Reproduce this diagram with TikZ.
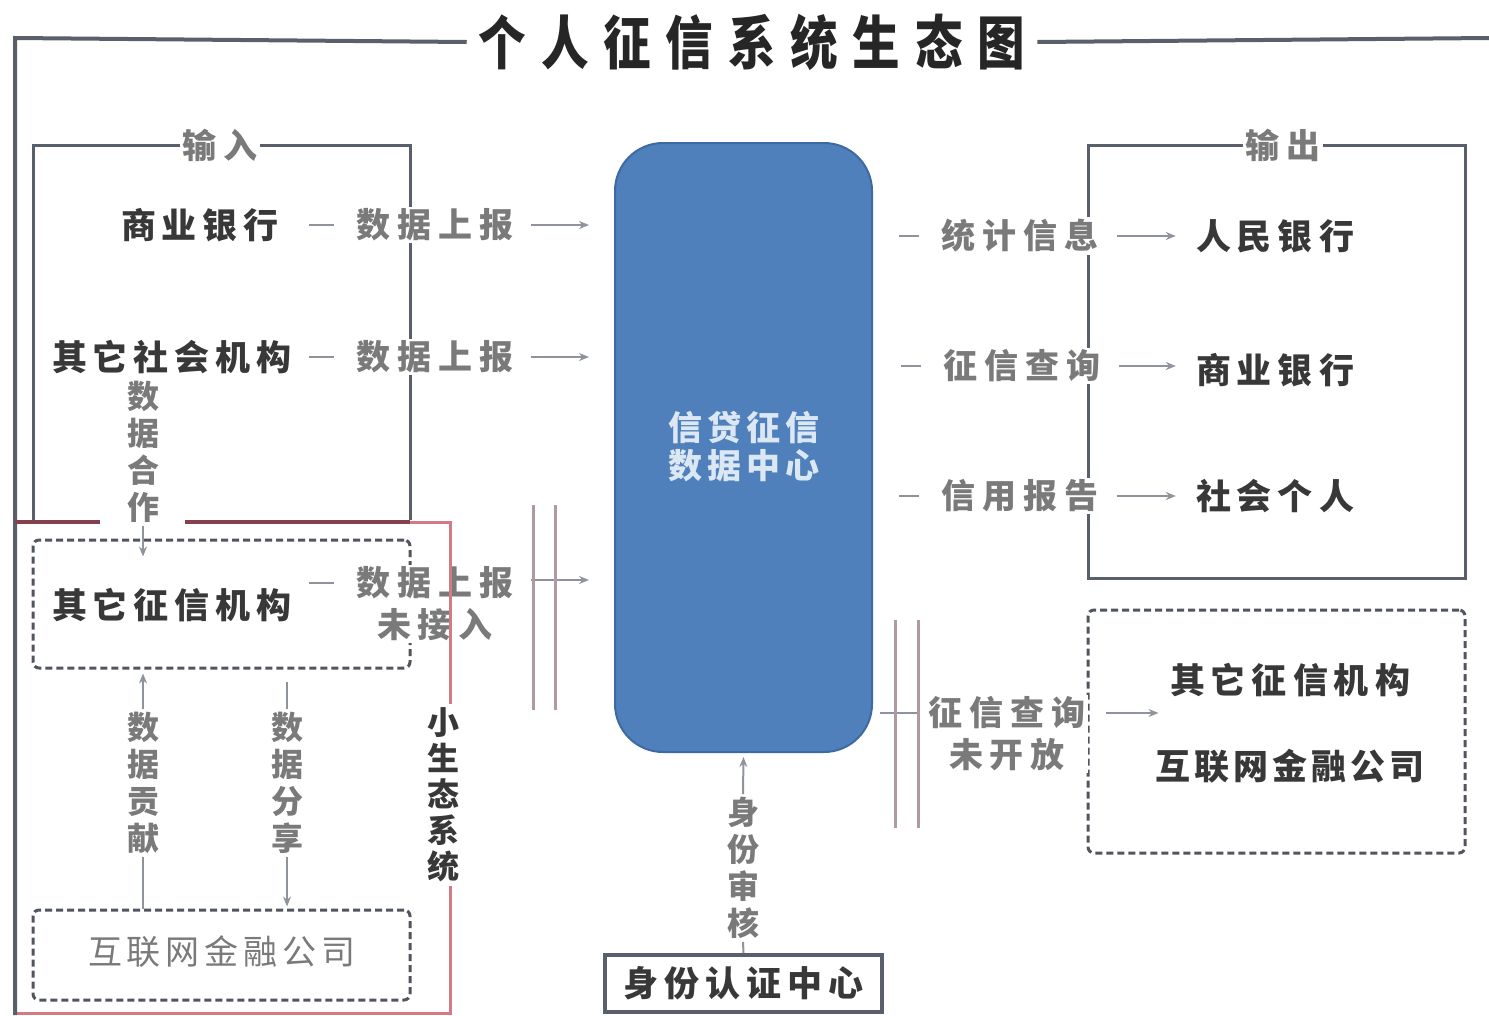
\documentclass[tikz,border=0pt]{standalone}
\usepackage{fontspec}
\setmainfont{Noto Sans CJK SC}
\usetikzlibrary{arrows.meta,calc}
\definecolor{framec}{HTML}{5A606B}
\definecolor{labc}{HTML}{7A7A7A}
\definecolor{entc}{HTML}{383838}
\definecolor{arrc}{HTML}{8F949C}
\definecolor{dboxc}{HTML}{50555E}
\definecolor{dblc}{HTML}{B09AA2}
\definecolor{redc}{HTML}{D27A86}
\definecolor{maroonc}{HTML}{85404F}
\definecolor{bluef}{HTML}{4F80BC}
\definecolor{blued}{HTML}{3D6AA0}
\definecolor{ctext}{HTML}{DCE7F4}
\makeatletter
\newdimen\lspk \lspk=6pt
\def\lsp@end{\lsp@end}
\def\lsp#1{\lsp@a#1\lsp@end}
\def\lsp@a#1{\ifx#1\lsp@end\else#1\expandafter\lsp@b\fi}
\def\lsp@b#1{\ifx#1\lsp@end\else\kern\lspk#1\expandafter\lsp@b\fi}
\makeatother
\newcommand\entfont{\fontsize{35}{40}\selectfont\bfseries\lspk=6pt}
\newcommand\labfont{\fontsize{34}{42}\selectfont\bfseries\lspk=7pt}
\newcommand\vfont{\fontsize{32}{37}\selectfont\bfseries}
\tikzset{
  frame/.style={draw=framec, line width=4pt},
  frametwo/.style={draw=framec, line width=3pt},
  conn/.style={draw=arrc, line width=2pt},
  tip/.style={-{Stealth[length=10pt,width=8pt]}},
  lab/.style={fill=white, text=labc, inner sep=2pt, font=\labfont, align=center},
  ent/.style={text=entc, inner sep=2pt, font=\entfont, align=center},
  vlab/.style={fill=white, text=labc, inner sep=3pt, font=\vfont, align=center},
  dbox/.style={draw=dboxc, line width=3pt, dash pattern=on 7pt off 4pt, rounded corners=6pt},
  dbl/.style={draw=dblc, line width=3pt},
}
\begin{document}
\begin{tikzpicture}[x=1pt,y=-1pt]
\useasboundingbox[fill=white] (0,0) rectangle (1489,1015);
% title and outer frame
\node[font=\fontsize{58}{64}\selectfont\bfseries, text=black!85, inner sep=12pt] (title) at (752,42) {\scalebox{0.82}[1]{\lspk=18pt\lsp{个人征信系统生态图}}};
\coordinate (ftl) at (15,38);
\coordinate (fbl) at (15,1015);
\coordinate (ftr) at (1489,38);
% red small-ecosystem box
\draw[draw=redc, line width=3pt] (410,522) -- (450,522) -- (450,1013) -- (15,1013) -- (15,522);
\draw[frame] (title.west) -- (ftl) -- (fbl);
\draw[frame] (title.east) -- (ftr);
% input box
\node[lab] (inlab) at (220,145) {\lsp{输入}};
\draw[frametwo] (inlab.west) -- (33,145) -- (33,520);
\draw[frametwo] (inlab.east) -- (410,145) -- (410,520);
\draw[draw=maroonc, line width=4pt] (15,522) -- (100,522);
\draw[draw=maroonc, line width=4pt] (185,522) -- (410,522);
% dashed boxes left
\node[dbox, minimum width=377pt, minimum height=128pt] (qzbox) at (221.5,604) {};
\node[dbox, minimum width=377pt, minimum height=90pt] (hlbox) at (221.5,955) {};
% central box
\node[draw=blued, fill=bluef, line width=2pt, rounded corners=48pt, minimum width=257pt, minimum height=609pt] (center) at (743.5,447.5) {};
\node[text=ctext, font=\fontsize{34}{38}\selectfont\bfseries, align=center] (ctxt) at (743.5,447) {\lspk=5pt\lsp{信贷征信}\\\lspk=5pt\lsp{数据中心}};
% left entities
\node[ent] (cb) at (200,225) {\lsp{商业银行}};
\node[ent] (os) at (172,357) {\lsp{其它社会机构}};
\node[ent] (qz) at (172,605) {\lsp{其它征信机构}};
\node[text=labc, font=\fontsize{34}{40}\selectfont, inner sep=2pt] (hl) at (222,952) {\lspk=5pt\lsp{互联网金融公司}};
% left labels
\node[lab] (r1) at (435,225) {\lsp{数据上报}};
\node[lab] (r2) at (435,357) {\lsp{数据上报}};
\node[lab] (r3) at (435,604) {\lsp{数据上报}\\\lsp{未接入}};
\draw[conn] ([xshift=-45]r1.west) -- ([xshift=-20]r1.west);
\draw[conn] ([xshift=-45]r2.west) -- ([xshift=-20]r2.west);
\draw[conn] ([xshift=-45]r3.west |- 0,583) -- ([xshift=-20]r3.west |- 0,583);
\draw[conn,tip] ([xshift=15]r1.east) -- ([xshift=-25]center.west |- r1);
\draw[conn,tip] ([xshift=15]r2.east) -- ([xshift=-25]center.west |- r2);
\draw[conn,tip] ([xshift=15]r3.east |- 0,580) -- ([xshift=-25]center.west |- 0,580);
\draw[dbl] (533,505) -- (533,710);
\draw[dbl] (555,505) -- (555,710);
% red box right edge visible over label
\draw[draw=redc, line width=3pt] (450,522) -- (450,700);
% vertical labels in left area
\node[vlab, fill=none] (hz) at (143,452) {数\\据\\合\\作};
\draw[conn,tip] (hz.south) -- ([yshift=-18]qzbox.north -| hz);
\node[vlab] (gx) at (143,783) {数\\据\\贡\\献};
\node[vlab] (fx) at (287,783) {数\\据\\分\\享};
\draw[conn] (hlbox.north -| gx) -- (gx.south);
\draw[conn,tip] (gx.north) -- ([yshift=-4]qzbox.south -| gx);
\draw[conn] ([yshift=-12]qzbox.south -| fx) -- (fx.north);
\draw[conn,tip] (fx.south) -- ([yshift=2]hlbox.north -| fx);
\node[fill=white, text=entc, font=\fontsize{32}{36}\selectfont\bfseries, align=center, inner sep=4pt] (xst) at (443,795) {小\\生\\态\\系\\统};
% identity centre
\node[draw=framec, line width=4pt, minimum width=277pt, minimum height=57pt, font=\entfont, text=entc, inner sep=0pt] (idc) at (743.5,983.5) {\lsp{身份认证中心}};
\node[vlab] (shh) at (743,868) {\fontsize{32}{38}\selectfont 身\\份\\审\\核};
\draw[conn] (idc.north) -- (shh.south);
\draw[conn,tip] (shh.north) -- ([yshift=-4]center.south);
% output box
\node[lab] (outlab) at (1283,145) {\lsp{输出}};
\draw[frametwo] (outlab.west) -- (1088,145) -- (1088,578) -- (1465,578) -- (1465,145) -- (outlab.east);
\node[lab] (s1) at (1020,236) {\lsp{统计信息}};
\node[lab] (s2) at (1022,366) {\lsp{征信查询}};
\node[lab] (s3) at (1020,496) {\lsp{信用报告}};
\node[ent] (t1) at (1275,236) {\lsp{人民银行}};
\node[ent] (t2) at (1275,370) {\lsp{商业银行}};
\node[ent] (t3) at (1275,496) {\lsp{社会个人}};
\foreach \s/\t in {s1/t1,s2/t2,s3/t3}{
  \draw[conn] ([xshift=-40]\s.west) -- ([xshift=-20]\s.west);
  \draw[conn,tip] ([xshift=16]\s.east) -- ([xshift=-18]\t.west |- \s);
}
% lower right
\node[dbox, minimum width=377pt, minimum height=243pt] (orbox) at (1276.5,731.5) {};
\node[ent] (o1) at (1290,680) {\lsp{其它征信机构}};
\node[ent] (o2) at (1290,766) {\lspk=4pt\lsp{互联网金融公司}};
\node[lab] (s4) at (1007,734) {\lsp{征信查询}\\\lsp{未开放}};
\draw[conn] (880,713) -- (917,713);
\draw[conn,tip] ([xshift=18]s4.east |- 0,713) -- ([xshift=72]orbox.west |- 0,713);
\draw[dbl] (895,620) -- (895,828);
\draw[dbl] (918,620) -- (918,828);
\end{tikzpicture}
\end{document}
